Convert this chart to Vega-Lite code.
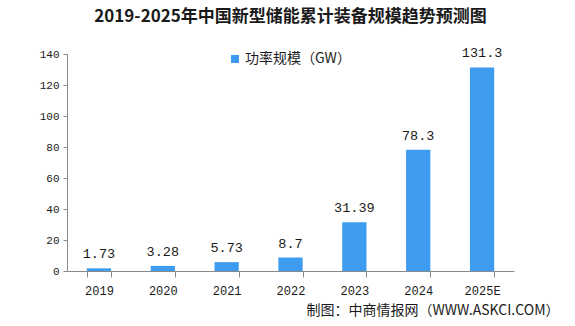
{
  "$schema": "https://vega.github.io/schema/vega-lite/v6.json",
  "autosize": "none",
  "width": 447,
  "height": 217,
  "padding": {"left": 67, "top": 54, "right": 61, "bottom": 55},
  "background": "white",
  "title": {
    "text": "2019-2025年中国新型储能累计装备规模趋势预测图",
    "font": "Noto Sans CJK SC",
    "fontSize": 17,
    "fontWeight": "bold",
    "color": "#1a1a1a",
    "anchor": "middle",
    "offset": 20
  },
  "data": {
    "values": [
      {"year": "2019", "value": 1.73, "series": "功率规模（GW）"},
      {"year": "2020", "value": 3.28, "series": "功率规模（GW）"},
      {"year": "2021", "value": 5.73, "series": "功率规模（GW）"},
      {"year": "2022", "value": 8.7, "series": "功率规模（GW）"},
      {"year": "2023", "value": 31.39, "series": "功率规模（GW）"},
      {"year": "2024", "value": 78.3, "series": "功率规模（GW）"},
      {"year": "2025E", "value": 131.3, "series": "功率规模（GW）"}
    ]
  },
  "encoding": {
    "x": {
      "field": "year",
      "type": "nominal",
      "sort": null,
      "scale": {"paddingInner": 0.62, "paddingOuter": 0.31},
      "axis": {
        "title": "制图：中商情报网（WWW.ASKCI.COM）",
        "titleFont": "Noto Sans CJK SC",
        "titleFontSize": 14,
        "titleFontWeight": "normal",
        "titleColor": "#1a1a1a",
        "titleAlign": "right",
        "titleBaseline": "middle",
        "titleX": 492,
        "titleY": 39,
        "labelAngle": 0,
        "labelFont": "Liberation Mono",
        "labelFontSize": 12,
        "labelColor": "#1a1a1a",
        "labelPadding": 8,
        "tickBand": "extent",
        "tickSize": 6,
        "tickColor": "#898989",
        "domainColor": "#898989",
        "grid": false
      }
    },
    "y": {
      "field": "value",
      "type": "quantitative",
      "scale": {"domain": [0, 140]},
      "axis": {
        "title": null,
        "values": [0, 20, 40, 60, 80, 100, 120, 140],
        "labelFont": "Liberation Mono",
        "labelFontSize": 11,
        "labelColor": "#1a1a1a",
        "labelPadding": 4,
        "tickSize": 4,
        "tickColor": "#898989",
        "domainColor": "#898989",
        "grid": false
      }
    }
  },
  "layer": [
    {
      "mark": {"type": "bar", "color": "#3e9cf0"},
      "encoding": {
        "color": {
          "field": "series",
          "type": "nominal",
          "scale": {"range": ["#3e9cf0"]},
          "legend": {
            "title": null,
            "orient": "none",
            "legendX": 161,
            "legendY": -2,
            "symbolType": "square",
            "symbolSize": 64,
            "symbolStrokeWidth": 0,
            "labelFont": "Noto Sans CJK SC",
            "labelFontSize": 14,
            "labelColor": "#1a1a1a",
            "labelOffset": 3,
            "padding": 0
          }
        }
      }
    },
    {
      "mark": {
        "type": "text",
        "baseline": "alphabetic",
        "dy": -10,
        "font": "Liberation Mono",
        "fontSize": 13.5,
        "color": "#1a1a1a"
      },
      "encoding": {"text": {"field": "value", "type": "nominal"}}
    }
  ],
  "config": {"view": {"stroke": null}}
}
